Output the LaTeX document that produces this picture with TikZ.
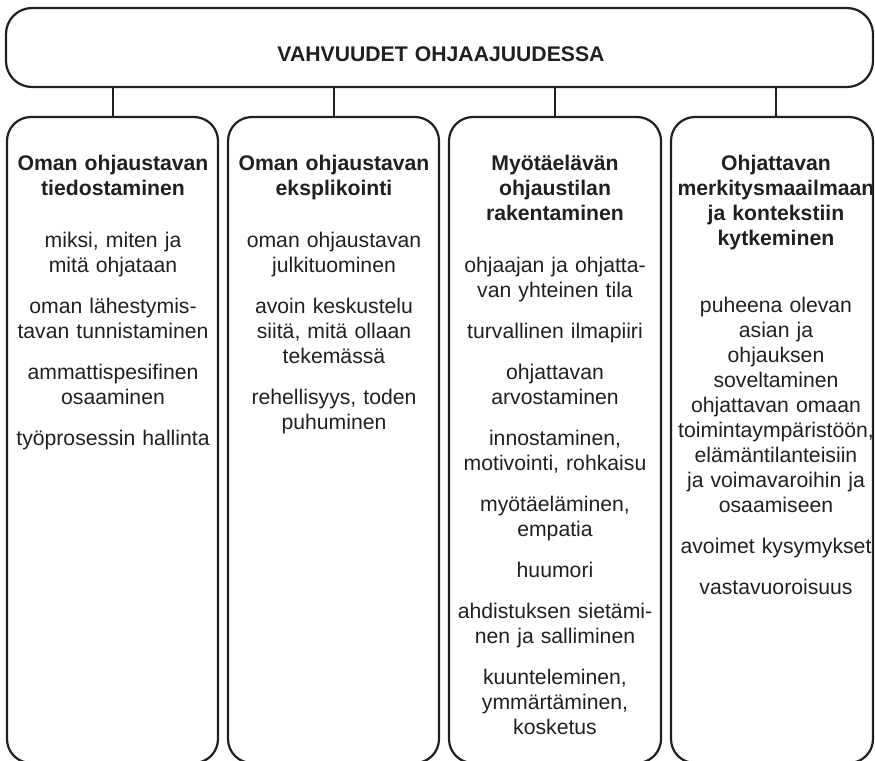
\documentclass[tikz,border=0pt]{standalone}
\usepackage{fontspec}
\setmainfont{Liberation Sans}
\definecolor{ink}{HTML}{231F20}
\begin{document}
\begin{tikzpicture}[x=1pt,y=-1pt,
  frame/.style={draw=ink, line width=2.2pt, rounded corners=24pt, inner sep=0pt},
  column/.style={frame, minimum height=646pt},
  head/.style={anchor=base, align=center, text width=215pt, inner sep=0pt,
    font=\fontsize{21.2}{25}\selectfont\bfseries, text=ink},
  body/.style={anchor=base, align=center, text width=215pt, inner sep=0pt,
    font=\fontsize{21.2}{25}\selectfont, text=ink},
  link/.style={draw=ink, line width=2pt}]
\useasboundingbox (0,0) rectangle (875,760);

% top banner
\node[frame, rounded corners=26pt, minimum width=867pt, minimum height=79pt] (top) at (439.5,47.5) {};
\node[head, text width=600pt] (title) at (441,62) {VAHVUUDET OHJAAJUUDESSA};

% four columns
\node[column, minimum width=211pt] (box1) at (112.5,440) {};
\node[column, minimum width=211pt] (box2) at (333.5,440) {};
\node[column, minimum width=212pt] (box3) at (555,440) {};
\node[column, minimum width=202pt] (box4) at (772,440) {};

% column headings
\node[head] (head1) at (113,170) {Oman ohjaustavan\\tiedostaminen};
\node[head] (head2) at (334,170) {Oman ohjaustavan\\eksplikointi};
\node[head] (head3) at (555,170) {Myötäelävän\\ohjaustilan\\rakentaminen};
\node[head] (head4) at (776,170) {Ohjattavan\\merkitysmaailmaan\\ja kontekstiin\\kytkeminen};

% column contents
\node[body] (body1) at (113,247) {miksi, miten ja\\mitä ohjataan\\[16pt]oman lähestymis-\\tavan tunnistaminen\\[16pt]ammattispesifinen\\osaaminen\\[16pt]työprosessin hallinta};
\node[body] (body2) at (334,247) {oman ohjaustavan\\julkituominen\\[16pt]avoin keskustelu\\siitä, mitä ollaan\\tekemässä\\[16pt]rehellisyys, toden\\puhuminen};
\node[body] (body3) at (555,272) {ohjaajan ja ohjatta-\\van yhteinen tila\\[16pt]turvallinen ilmapiiri\\[16pt]ohjattavan\\arvostaminen\\[16pt]innostaminen,\\motivointi, rohkaisu\\[16pt]myötäeläminen,\\empatia\\[16pt]huumori\\[16pt]ahdistuksen sietämi-\\nen ja salliminen\\[16pt]kuunteleminen,\\ymmärtäminen,\\kosketus};
\node[body] (body4) at (776,312) {puheena olevan\\asian ja\\ohjauksen\\soveltaminen\\ohjattavan omaan\\toimintaympäristöön,\\elämäntilanteisiin\\ja voimavaroihin ja\\osaamiseen\\[16pt]avoimet kysymykset\\[16pt]vastavuoroisuus};

% connectors from banner to columns
\draw[link] (top.south -| head1.base) -- (box1.north -| head1.base);
\draw[link] (top.south -| head2.base) -- (box2.north -| head2.base);
\draw[link] (top.south -| head3.base) -- (box3.north -| head3.base);
\draw[link] (top.south -| head4.base) -- (box4.north -| head4.base);
\end{tikzpicture}
\end{document}
